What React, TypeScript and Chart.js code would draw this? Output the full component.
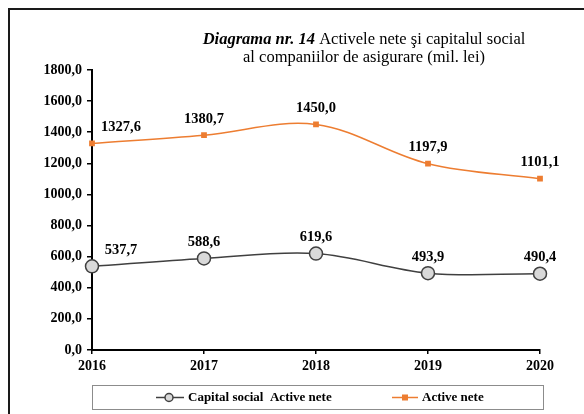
import React, { useEffect, useRef } from "react";
import { Chart, registerables } from "chart.js";

Chart.register(...registerables);

const years = ["2016", "2017", "2018", "2019", "2020"];
const capitalSocial = [537.7, 588.6, 619.6, 493.9, 490.4];
const activeNete = [1327.6, 1380.7, 1450.0, 1197.9, 1101.1];
const yMin = 0;
const yMax = 1800;
const yStep = 200;
const seriesNames = ["Capital social  Active nete", "Active nete"];
const titleBold = "Diagrama nr. 14";
const titleRest = " Activele nete şi capitalul social";
const titleLine2 = "al companiilor de asigurare (mil. lei)";

const SERIF = "'Liberation Serif', 'Times New Roman', serif";
const GREY = "#404040";
const ORANGE = "#ed7d31";

const fmt = (v: number) => v.toFixed(1).replace(".", ",");

const decorPlugin = {
  id: "decor",
  beforeDraw(chart: any) {
    const ctx = chart.ctx;
    ctx.save();
    ctx.fillStyle = "#fff";
    ctx.fillRect(0, 0, chart.width, chart.height);
    ctx.strokeStyle = "#1a1a1a";
    ctx.lineWidth = 2;
    ctx.beginPath();
    ctx.moveTo(9, chart.height);
    ctx.lineTo(9, 9);
    ctx.lineTo(chart.width, 9);
    ctx.stroke();
    ctx.restore();
  },
  afterDraw(chart: any) {
    const ctx = chart.ctx;
    ctx.save();
    // title
    ctx.fillStyle = "#000";
    ctx.textBaseline = "middle";
    ctx.textAlign = "left";
    const cx = 364;
    ctx.font = `italic bold 16.5px ${SERIF}`;
    const wb = ctx.measureText(titleBold).width;
    ctx.font = `16.5px ${SERIF}`;
    const wr = ctx.measureText(titleRest).width;
    const x0 = cx - (wb + wr) / 2;
    ctx.font = `italic bold 16.5px ${SERIF}`;
    ctx.fillText(titleBold, x0, 40);
    ctx.font = `16.5px ${SERIF}`;
    ctx.fillText(titleRest, x0 + wb, 40);
    ctx.textAlign = "center";
    ctx.fillText(titleLine2, cx, 58);

    // data labels
    ctx.font = `bold 14.5px ${SERIF}`;
    chart.data.datasets.forEach((ds: any, di: number) => {
      const meta = chart.getDatasetMeta(di);
      meta.data.forEach((pt: any, i: number) => {
        const dx = i === 0 ? 29 : 0;
        ctx.fillText(fmt(ds.data[i]), pt.x + dx, pt.y - 16);
      });
    });

    // legend
    ctx.strokeStyle = "#8c8c8c";
    ctx.lineWidth = 1;
    ctx.strokeRect(92.5, 385.5, 451, 24);
    const ly = 397.5;
    ctx.textAlign = "left";
    ctx.font = `bold 13px ${SERIF}`;
    // item 1
    ctx.strokeStyle = GREY;
    ctx.lineWidth = 1.5;
    ctx.beginPath();
    ctx.moveTo(156, ly);
    ctx.lineTo(184, ly);
    ctx.stroke();
    ctx.beginPath();
    ctx.arc(169, ly, 4, 0, Math.PI * 2);
    ctx.fillStyle = "#d9d9d9";
    ctx.fill();
    ctx.stroke();
    ctx.fillStyle = "#000";
    ctx.fillText(seriesNames[0], 188, ly);
    // item 2
    ctx.strokeStyle = ORANGE;
    ctx.beginPath();
    ctx.moveTo(392, ly);
    ctx.lineTo(418, ly);
    ctx.stroke();
    ctx.fillStyle = ORANGE;
    ctx.fillRect(402, ly - 3, 6, 6);
    ctx.fillStyle = "#000";
    ctx.fillText(seriesNames[1], 422, ly);
    ctx.restore();
  },
};

export default function App() {
  const ref = useRef<HTMLCanvasElement>(null);
  useEffect(() => {
    document.body.style.margin = "0";
    const canvas = ref.current;
    if (!canvas) return;
    const chart = new Chart(canvas, {
      type: "line",
      data: {
        labels: years,
        datasets: [
          {
            label: seriesNames[0],
            data: capitalSocial,
            borderColor: GREY,
            borderWidth: 1.5,
            backgroundColor: "#d9d9d9",
            pointBackgroundColor: "#d9d9d9",
            pointBorderColor: GREY,
            pointBorderWidth: 1.5,
            pointStyle: "circle",
            pointRadius: 6.5,
            tension: 0.35,
            clip: false,
          },
          {
            label: seriesNames[1],
            data: activeNete,
            borderColor: ORANGE,
            borderWidth: 1.5,
            backgroundColor: ORANGE,
            pointBackgroundColor: ORANGE,
            pointBorderColor: ORANGE,
            pointStyle: "rect",
            pointRadius: 3,
            tension: 0.35,
            clip: false,
          },
        ],
      },
      options: {
        responsive: false,
        animation: false,
        events: [],
        layout: { padding: { top: 70, right: 44, bottom: 0, left: 0 } },
        plugins: {
          legend: { display: false },
          title: { display: false },
          tooltip: { enabled: false },
        },
        scales: {
          x: {
            type: "category",
            offset: false,
            grid: {
              display: true,
              drawOnChartArea: false,
              drawTicks: true,
              tickLength: 4,
              color: "#000",
              lineWidth: 1.5,
            },
            border: { display: true, color: "#000", width: 2 },
            ticks: {
              color: "#000",
              font: { family: SERIF, size: 14, weight: "bold" },
              padding: 4,
              maxRotation: 0,
            },
            afterFit(s: any) {
              s.height = 64;
            },
          },
          y: {
            min: yMin,
            max: yMax,
            grid: {
              display: true,
              drawOnChartArea: false,
              drawTicks: true,
              tickLength: 5,
              color: "#000",
              lineWidth: 1.5,
            },
            border: { display: true, color: "#000", width: 2 },
            ticks: {
              stepSize: yStep,
              color: "#000",
              font: { family: SERIF, size: 14, weight: "bold" },
              padding: 5,
              callback: (v: any) => fmt(Number(v)),
            },
            afterFit(s: any) {
              s.width = 92;
            },
          },
        },
      },
      plugins: [decorPlugin],
    } as any);
    return () => chart.destroy();
  }, []);
  return (
    <div style={{ width: 584, height: 414 }}>
      <canvas ref={ref} width={584} height={414} style={{ display: "block" }} />
    </div>
  );
}
